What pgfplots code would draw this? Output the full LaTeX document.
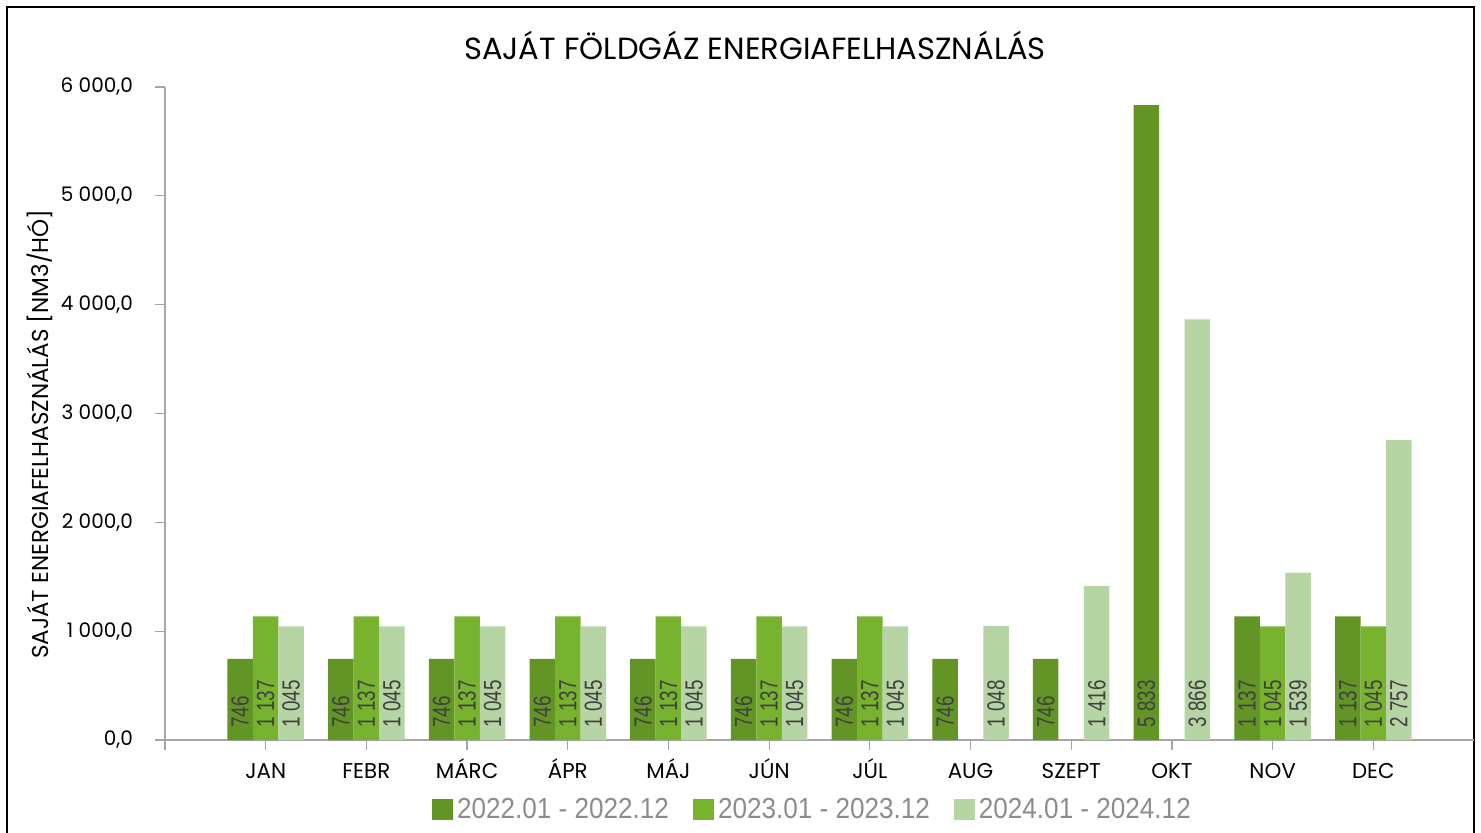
\documentclass[border=0pt]{standalone}
\usepackage{fontspec}
\setmainfont{Poppins}
\newfontfamily\labfont[FakeStretch=0.76]{Liberation Sans}
\newfontfamily\legfont[FakeStretch=0.9]{Liberation Sans}
\usepackage{pgfplots}
\pgfplotsset{compat=1.18}
\usepackage{pgfplotstable}

\definecolor{c1}{RGB}{98,149,38}
\definecolor{c2}{RGB}{119,179,47}
\definecolor{c3}{RGB}{182,212,164}
\definecolor{axgray}{RGB}{166,166,166}
\definecolor{labgray}{RGB}{64,64,64}
\definecolor{leggray}{RGB}{140,140,140}

\pgfplotstableread{
x  a     b     c
0  746   1137  1045
1  746   1137  1045
2  746   1137  1045
3  746   1137  1045
4  746   1137  1045
5  746   1137  1045
6  746   1137  1045
7  746   nan   1048
8  746   nan   1416
9  5833  nan   3866
10 1137  1045  1539
11 1137  1045  2757
}\data

\begin{document}
\begin{tikzpicture}
\useasboundingbox (0,0) rectangle (740.5pt,416pt);
\draw[line width=1pt] (3.5pt,-5pt) -- (3.5pt,412.5pt) -- (737pt,412.5pt) -- (737pt,-5pt);
\node[font=\fontsize{15.3}{18}\selectfont] at (377.5pt,393.5pt) {SAJÁT FÖLDGÁZ ENERGIAFELHASZNÁLÁS};
\node[rotate=90, font=\fontsize{11.5}{13}\selectfont] at (20pt,199pt) {SAJÁT ENERGIAFELHASZNÁLÁS [NM3/HÓ]};
\begin{axis}[
  at={(82.5pt,46pt)}, anchor=south west,
  scale only axis, width=654.5pt, height=326.5pt,
  xmin=-1, xmax=12, ymin=0, ymax=6000,
  enlargelimits=false,
  ybar, bar width=12.75pt,
  axis x line=bottom, axis y line=left,
  axis line style={-, draw=axgray, line width=0.6pt},
  tick align=outside, major tick length=5pt,
  tick style={draw=axgray, line width=0.6pt},
  xtick={-1,0,...,11},
  xticklabels={,JAN,FEBR,MÁRC,ÁPR,MÁJ,JÚN,JÚL,AUG,SZEPT,OKT,NOV,DEC},
  xticklabel style={font=\fontsize{10.7}{12}\selectfont, text height=7.6pt, text depth=0pt, yshift=-3pt},
  ytick={0,1000,...,6000},
  yticklabel style={font=\fontsize{10}{12}\selectfont, xshift=-7.5pt,
    /pgf/number format/.cd, fixed, fixed zerofill, precision=1, use comma, 1000 sep={\ }, assume math mode=true},
  point meta=y,
  nodes near coords={\pgfmathprintnumber[fixed,precision=0,1000 sep={\ },assume math mode=true]{\pgfplotspointmeta}},
  visualization depends on={y \as \rawy},
  every node near coord/.append style={shift={(axis direction cs:0,110-\rawy)}, rotate=90, anchor=west, inner sep=0pt,
    font=\labfont\fontsize{12.4}{13}\selectfont, text=labgray},
  legend columns=3,
  legend style={at={(0.4954,-0.107)}, anchor=center, draw=none, fill=none,
    font=\legfont\fontsize{14.5}{16}\selectfont, text=leggray,
    /tikz/every even column/.append style={column sep=10pt}},
  legend cell align=left,
  legend image code/.code={\fill[#1] (0pt,-5.25pt) rectangle (10.5pt,5.25pt);},
]
\addplot[fill=c1, draw=none, bar shift=-12.75pt] table[x=x,y=a]{\data};
\addplot[fill=c2, draw=none, bar shift=0pt] table[x=x,y=b]{\data};
\addplot[fill=c3, draw=none, bar shift=12.75pt] table[x=x,y=c]{\data};
\legend{2022.01 - 2022.12, 2023.01 - 2023.12, 2024.01 - 2024.12}
\end{axis}
\end{tikzpicture}
\end{document}
